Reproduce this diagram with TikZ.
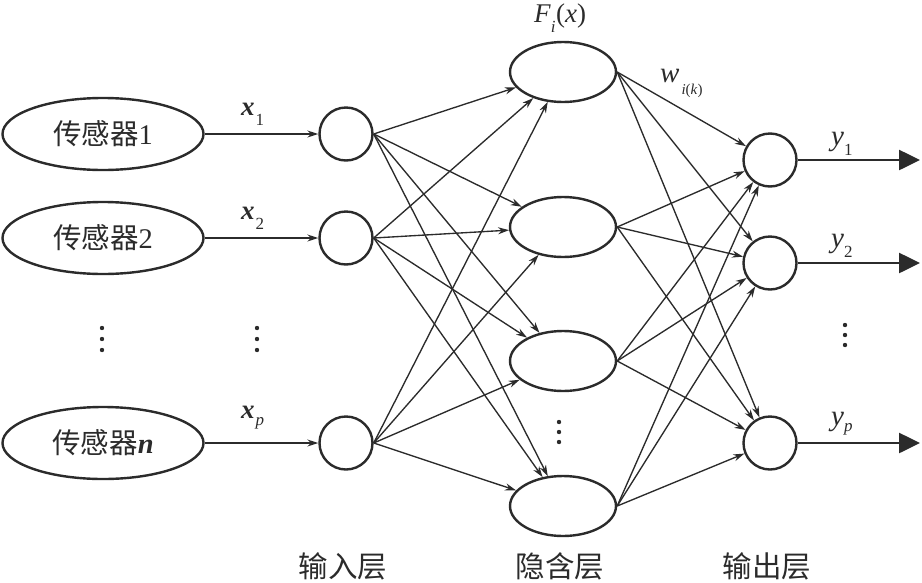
\documentclass[tikz,border=0pt]{standalone}
\usepackage{fontspec}
\setmainfont{Liberation Serif}
\newfontfamily\cjk{Noto Sans CJK SC}
\usetikzlibrary{arrows.meta,shapes.geometric}
\newcommand\subl[2][10pt]{\raisebox{-#1}{\fontsize{17}{17}\selectfont #2}}
\definecolor{lc}{HTML}{2B2B2B}
\begin{document}
\begin{tikzpicture}[x=1pt,y=-1pt,
  every node/.style={text=lc},
  sensor/.style={ellipse,draw=lc,line width=2.4pt,minimum width=201pt,minimum height=72pt,inner sep=0pt,font=\fontsize{28.5}{30}\selectfont},
  neuron/.style={circle,draw=lc,line width=2.4pt,minimum size=53pt,inner sep=0pt},
  hid/.style={ellipse,draw=lc,line width=2.4pt,minimum width=106pt,minimum height=60pt,inner sep=0pt},
  conn/.style={draw=lc,line width=1.35pt,-{Stealth[length=11pt,width=7pt]}},
  outarr/.style={draw=lc,line width=2.6pt,-{Triangle[length=21pt,width=20pt]}},
  lab/.style={font=\fontsize{27}{29}\selectfont,inner sep=0pt,anchor=base west},
  layer/.style={font=\cjk\fontsize{29.5}{31}\selectfont,inner sep=0pt},
  dotc/.style={fill=lc}
]
\useasboundingbox (0,0) rectangle (922,582);
% sensors
\node[sensor] (s1) at (103,134) {{\cjk 传感器}1};
\node[sensor] (s2) at (103,238) {{\cjk 传感器}2};
\node[sensor] (sn) at (103,443) {{\cjk 传感器}\textbf{\textit{n}}};
% input layer
\node[neuron] (i1) at (346,134) {};
\node[neuron] (i2) at (346,238) {};
\node[neuron] (ip) at (346,443) {};
% hidden layer
\node[hid] (h1) at (563,72) {};
\node[hid] (h2) at (563,227) {};
\node[hid] (h3) at (563,361) {};
\node[hid] (h4) at (563,506) {};
% output layer
\node[neuron] (o1) at (770,160) {};
\node[neuron] (o2) at (770,263) {};
\node[neuron] (op) at (770,443) {};
% sensor to input
\draw[conn] (s1) -- (i1);
\draw[conn] (s2) -- (i2);
\draw[conn] (sn) -- (ip);
% input to hidden
\foreach \a in {i1,i2,ip}
  \foreach \b in {h1,h2,h3,h4}
    \draw[conn] (\a.east) -- (\b);
% hidden to output
\foreach \a in {h1,h2,h3,h4}
  \foreach \b in {o1,o2,op}
    \draw[conn] (\a.east) -- (\b);
% outputs
\coordinate (e1) at (920,160);
\coordinate (e2) at (920,263);
\coordinate (ep) at (920,443);
\draw[outarr] (o1) -- (e1);
\draw[outarr] (o2) -- (e2);
\draw[outarr] (op) -- (ep);
% labels
\node[lab] (lx1) at (241,115) {\textbf{\textit{x}}\hspace{1pt}\subl{1}};
\node[lab] (lx2) at (241,219) {\textbf{\textit{x}}\hspace{1pt}\subl{2}};
\node[lab] (lxp) at (241,418) {\textbf{\textit{x}}\hspace{1pt}\subl[7pt]{\textit{p}}};
\node[lab] (lF) at (534,22) {\textit{F}\subl{\textit{i}}\hspace{0.5pt}(\textit{x})};
\node[lab,font=\fontsize{29}{31}\selectfont] (lw) at (660,82) {\textit{w}\hspace{2pt}\subl[12pt]{\fontsize{15}{15}\selectfont\textit{i}(\textit{k})}};
\node[lab,font=\fontsize{29}{31}\selectfont] (ly1) at (831,145) {\textit{y}\subl{1}};
\node[lab,font=\fontsize{29}{31}\selectfont] (ly2) at (831,247) {\textit{y}\subl{2}};
\node[lab,font=\fontsize{29}{31}\selectfont] (lyp) at (831,425) {\textit{y}\subl[6pt]{\textit{p}}};
% layer names
\node[layer] (L1) at (343,566) {输入层};
\node[layer] (L2) at (560,566) {隐含层};
\node[layer] (L3) at (767,566) {输出层};
% dots
\foreach \x/\y in {102/328,102/339,102/350,257/328,257/339,257/350,559/422,559/432,559/442,845/325,845/335,845/345}
  \fill[dotc] (\x,\y) circle (2.2pt);
\end{tikzpicture}
\end{document}
